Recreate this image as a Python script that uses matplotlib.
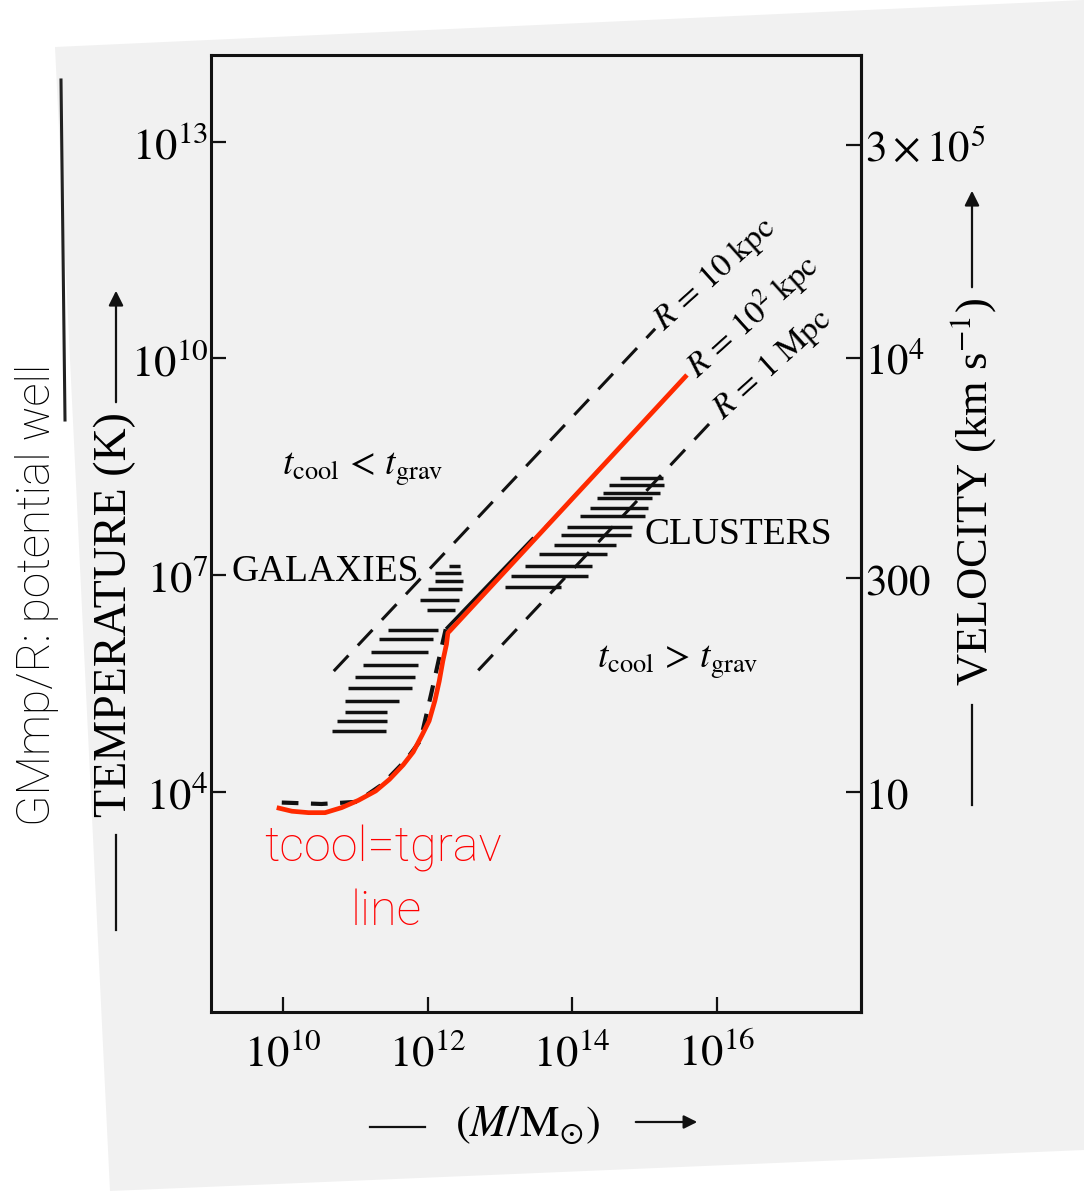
import numpy as np
import matplotlib.pyplot as plt
from matplotlib.patches import Polygon
from matplotlib.ticker import NullLocator

plt.rcParams['mathtext.fontset'] = 'stix'
serif = ['Liberation Serif', 'DejaVu Serif']
thin = ['Roboto', 'Lato', 'DejaVu Sans']

# values, as log10(M/Msun) and log10(T/K)
red_logM = [9.91, 10.12, 10.35, 10.58, 10.81, 11.04, 11.28, 11.47, 11.66, 11.80,
            11.92, 12.02, 12.10, 12.16, 12.21, 12.26, 12.28, 12.31, 15.59]
red_logT = [3.78, 3.73, 3.71, 3.71, 3.78, 3.88, 4.01, 4.17, 4.37, 4.55,
            4.78, 4.98, 5.26, 5.53, 5.81, 6.04, 6.20, 6.23, 9.77]

cool_logM = [9.98, 10.53, 11.02, 11.37, 11.70, 11.90, 12.05, 12.19, 12.25]
cool_logT = [3.85, 3.83, 3.86, 4.10, 4.44, 4.71, 5.36, 5.99, 6.25]
cool_solid_logM = [12.27, 13.45]
cool_solid_logT = [6.27, 7.50]

r_labels = [r'$R\,=\,10\ \mathrm{kpc}$', r'$R\,=\,10^2\ \mathrm{kpc}$', r'$R\,=\,1\ \mathrm{Mpc}$']
r_logM_lo = [10.70, 12.30, 12.70]
r_logT_lo = [5.67, 6.23, 5.68]
r_logM_hi = [15.15, 15.59, 15.97]
r_logT_hi = [10.41, 9.77, 9.17]

gal_logT = [7.12, 7.03, 6.92, 6.80, 6.66, 6.52, 6.24, 6.11, 5.93, 5.75, 5.59, 5.43, 5.26, 5.11, 4.98, 4.84]
gal_lo = [12.29, 12.10, 12.10, 12.00, 11.90, 11.99, 11.45, 11.33, 11.21, 11.10, 11.00, 10.89, 10.85, 10.85, 10.74, 10.67]
gal_hi = [12.45, 12.46, 12.49, 12.48, 12.44, 12.38, 12.15, 12.08, 12.00, 11.87, 11.83, 11.78, 11.61, 11.44, 11.44, 11.43]

clu_logT = [8.34, 8.25, 8.14, 8.06, 7.93, 7.82, 7.66, 7.55, 7.42, 7.29, 7.12, 6.98, 6.84]
clu_lo = [14.67, 14.51, 14.43, 14.35, 14.25, 14.11, 13.93, 13.85, 13.75, 13.54, 13.35, 13.16, 13.07]
clu_hi = [15.26, 15.27, 15.22, 15.11, 15.05, 15.01, 14.83, 14.82, 14.61, 14.48, 14.27, 14.22, 13.84]

mass_ticks = [1e10, 1e12, 1e14, 1e16]
mass_labels = [r'$10^{10}$', r'$10^{12}$', r'$10^{14}$', r'$10^{16}$']
temp_ticks = [1e4, 1e7, 1e10, 1e13]
temp_labels = [r'$10^4$', r'$10^7$', r'$10^{10}$', r'$10^{13}$']
vel_ticks = [10, 300, 1e4, 3e5]
vel_labels = [r'$10$', r'$300$', r'$10^4$', r'$3\times10^5$']

W, H = 1084, 1191
fig = plt.figure(figsize=(W / 100, H / 100), dpi=100)
fig.patch.set_facecolor('white')

# background layer in pixel coordinates (scanned page, arrows, annotations)
bg = fig.add_axes([0, 0, 1, 1], zorder=0)
bg.set_xlim(0, W)
bg.set_ylim(H, 0)
bg.axis('off')
bg.add_patch(Polygon([(55, 47), (1042, 2), (1084, 0), (1084, 1150), (110, 1191)],
                     closed=True, facecolor='#f1f1f1', edgecolor='none'))
bg.plot([61, 65], [80, 420], color='#222222', lw=2.2)

ax = fig.add_axes([211 / W, 1 - 1012 / H, 650 / W, 957 / H], zorder=2)
ax.patch.set_alpha(0)
ax.set_xscale('log')
ax.set_yscale('log')
ax.set_xlim(1e9, 1e18)
ax.set_ylim(10 ** 0.95, 10 ** 14.2)

M = lambda a: 10 ** np.asarray(a)

for x0, y0, x1, y1 in zip(r_logM_lo, r_logT_lo, r_logM_hi, r_logT_hi):
    ax.plot(M([x0, x1]), M([y0, y1]), color='#111111', lw=2.2, dashes=(7, 4.5))

ax.hlines(M(gal_logT), M(gal_lo), M(gal_hi), color='#111111', lw=2.5)
ax.hlines(M(clu_logT), M(clu_lo), M(clu_hi), color='#111111', lw=2.5)

ax.plot(M(cool_logM), M(cool_logT), color='#111111', lw=3.0, dashes=(4, 3))
ax.plot(M(cool_solid_logM), M(cool_solid_logT), color='#111111', lw=2.4)
ax.plot(M(red_logM), M(red_logT), color='#ff2a00', lw=3.4, solid_capstyle='butt', zorder=5)

for lab, x, y in zip(r_labels, r_logM_hi, r_logT_hi):
    ax.text(10 ** (x + 0.05), 10 ** (y + 0.05), lab, rotation=42, rotation_mode='anchor',
            ha='left', va='center', fontsize=24)

ax.text(M(11.10), M(8.47), r'$t_{\rm cool}\,<\,t_{\rm grav}$', ha='center', va='center', fontsize=27)
ax.text(M(15.46), M(5.79), r'$t_{\rm cool}\,>\,t_{\rm grav}$', ha='center', va='center', fontsize=27)
ax.text(M(9.28), M(7.05), 'GALAXIES', family=serif, fontsize=27, ha='left', va='center')
ax.text(M(15.0), M(7.56), 'CLUSTERS', family=serif, fontsize=27, ha='left', va='center')

for s in ax.spines.values():
    s.set_linewidth(2.2)
    s.set_color('#111111')
ax.set_xticks(mass_ticks)
ax.set_xticklabels(mass_labels)
ax.set_yticks(temp_ticks)
ax.set_yticklabels(temp_labels)
ax.xaxis.set_minor_locator(NullLocator())
ax.yaxis.set_minor_locator(NullLocator())
ax.tick_params(axis='both', direction='in', length=11, width=1.6, color='#111111', labelsize=32)
ax.tick_params(axis='x', pad=14)
ax.tick_params(axis='y', pad=2)

sec = ax.secondary_yaxis('right', functions=(lambda T: np.sqrt(np.abs(T) / 100.0),
                                              lambda v: 100.0 * v ** 2))
sec.set_yticks(vel_ticks)
sec.set_yticklabels(vel_labels)
sec.yaxis.set_minor_locator(NullLocator())
sec.tick_params(direction='in', length=11, width=1.6, color='#111111', labelsize=31, pad=3)
sec.spines['right'].set_linewidth(2.2)

# axis titles with their arrows
bg.text(115, 615, 'TEMPERATURE (K)', family=serif, fontsize=33, rotation=90, ha='center', va='center')
bg.annotate('', xy=(116, 288), xytext=(116, 405),
            arrowprops=dict(arrowstyle='-|>', lw=1.6, color='#111111', mutation_scale=22))
bg.plot([116, 116], [835, 930], color='#111111', lw=1.6)

bg.text(973, 492, r'VELOCITY (km s$^{-1}$)', family=serif, fontsize=32, rotation=90, ha='center', va='center')
bg.annotate('', xy=(972, 188), xytext=(972, 290),
            arrowprops=dict(arrowstyle='-|>', lw=1.6, color='#111111', mutation_scale=22))
bg.plot([972, 972], [705, 805], color='#111111', lw=1.6)

bg.text(528, 1124, r'$(M/\mathrm{M}_{\odot})$', fontsize=32, ha='center', va='center')
bg.plot([370, 425], [1127, 1127], color='#111111', lw=1.6)
bg.annotate('', xy=(700, 1122), xytext=(633, 1122),
            arrowprops=dict(arrowstyle='-|>', lw=1.6, color='#111111', mutation_scale=20))

# added annotations
bg.text(37, 595, 'GMmp/R: potential well', family=thin, fontweight='light', fontsize=33,
        rotation=90, ha='center', va='center', color='black')
bg.text(383, 862, 'tcool=tgrav', family=thin, fontweight='light', fontsize=35,
        ha='center', va='baseline', color='#ff0000', zorder=6)
bg.text(386, 925, 'line', family=thin, fontweight='light', fontsize=35,
        ha='center', va='baseline', color='#ff0000', zorder=6)

fig.savefig('out.png', dpi=100)
